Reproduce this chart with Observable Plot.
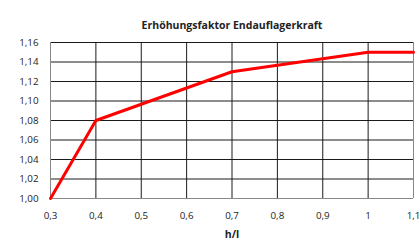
<!DOCTYPE html>
<html><head><meta charset="utf-8">
<script src="https://cdn.jsdelivr.net/npm/d3@7"></script>
<script src="https://cdn.jsdelivr.net/npm/@observablehq/plot@0.6"></script>
<style>body{margin:0;background:#fff}</style>
</head><body><div id="chart"></div>
<script>
const title = "Erhöhungsfaktor Endauflagerkraft";
const xLabel = "h/l";
const hl = [0.3, 0.4, 0.7, 1.0, 1.1];
const factor = [1.00, 1.08, 1.13, 1.15, 1.15];
const xTicks = [0.3, 0.4, 0.5, 0.6, 0.7, 0.8, 0.9, 1.0, 1.1];
const yTicks = [1.00, 1.02, 1.04, 1.06, 1.08, 1.10, 1.12, 1.14, 1.16];

const data = hl.map((x, i) => ({x, y: factor[i]}));
const fmtX = d => (Math.abs(d - Math.round(d)) < 1e-9 ? String(Math.round(d)) : d.toFixed(1).replace(".", ","));
const fmtY = d => d.toFixed(2).replace(".", ",");

const chart = Plot.plot({
  width: 420, height: 243,
  marginLeft: 50, marginRight: 7, marginTop: 42, marginBottom: 45,
  style: {fontFamily: "'Open Sans', sans-serif", fontSize: "9.8px", color: "#222", background: "#fff", overflow: "visible"},
  x: {domain: [0.3, 1.1], ticks: xTicks, tickFormat: fmtX, tickSize: 0, tickPadding: 14, label: null},
  y: {domain: [1.0, 1.16], ticks: yTicks, tickFormat: fmtY, tickSize: 0, tickPadding: 12, label: null},
  marks: [
    Plot.ruleY(yTicks, {stroke: "#1a1a1a", strokeWidth: 1}),
    Plot.ruleX(xTicks, {stroke: "#1a1a1a", strokeWidth: 1}),
    Plot.ruleX([0.3, 1.1], {stroke: "#888", strokeWidth: 1}),
    Plot.ruleY([1.0], {stroke: "#888", strokeWidth: 1}),
    Plot.line(data, {x: "x", y: "y", stroke: "#ff0000", strokeWidth: 3}),
    Plot.text([title], {frameAnchor: "top", dy: -21, fontWeight: "bold", fontSize: 10.5, text: d => d, fill: "#222"}),
    Plot.text([xLabel], {frameAnchor: "bottom", dy: 39, fontWeight: "bold", fontSize: 10.5, text: d => d, fill: "#222"})
  ]
});
document.getElementById("chart").appendChild(chart);
</script>
</body></html>
